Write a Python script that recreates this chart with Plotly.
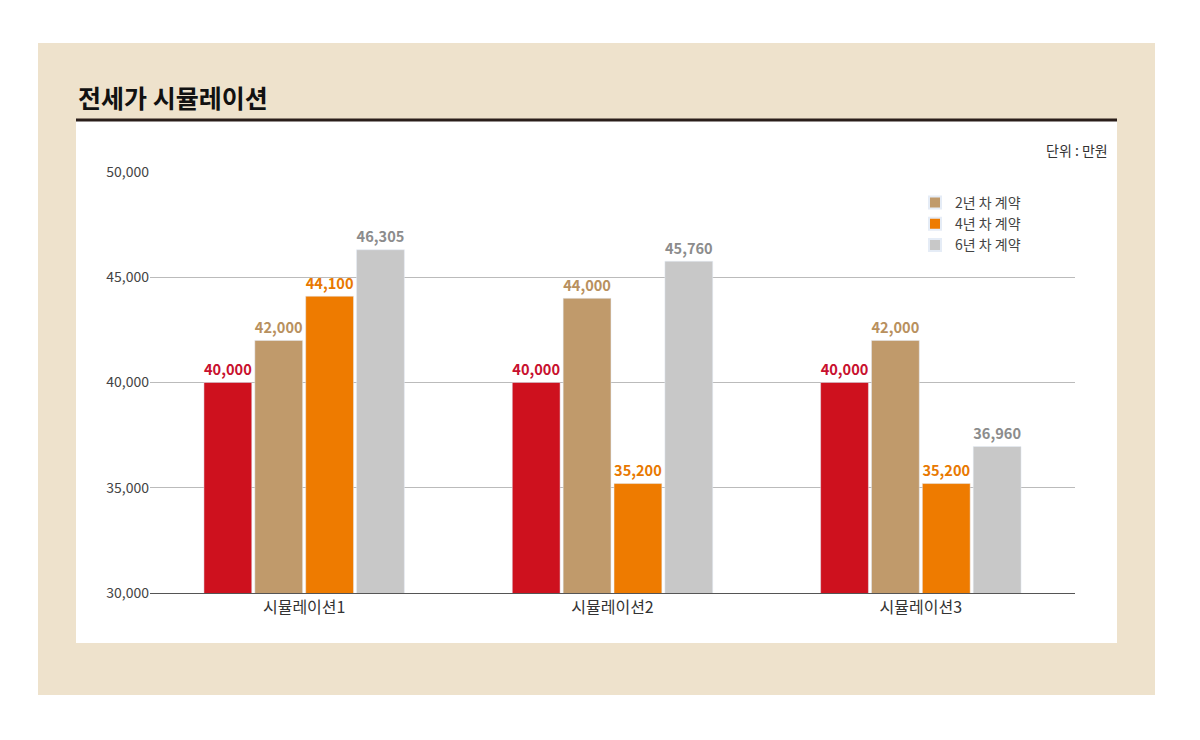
import plotly.graph_objects as go

categories = ["시뮬레이션1", "시뮬레이션2", "시뮬레이션3"]
base = [40000, 40000, 40000]
year2 = [42000, 44000, 42000]
year4 = [44100, 35200, 35200]
year6 = [46305, 45760, 36960]
names = ["기준", "2년 차 계약", "4년 차 계약", "6년 차 계약"]
yticks = [30000, 35000, 40000, 45000, 50000]

FONT = "Noto Sans CJK KR"
OFF = 8  # page body offset
L, R, T, B = 150 - OFF, 1075 - OFF, 172 - OFF, 593 - OFF

def px(x):
    return (x - OFF - L) / (R - L)

def py(y):
    return (B - (y - OFF)) / (B - T)

series = [
    (names[0], base, "#CE111E", "#C8102E", False),
    (names[1], year2, "#C09A6B", "#B8905E", True),
    (names[2], year4, "#EE7B00", "#E87800", True),
    (names[3], year6, "#C8C8C8", "#8C8C8C", True),
]

fig = go.Figure()
for name, vals, color, tcolor, show in series:
    fig.add_trace(go.Bar(
        x=categories, y=vals, name=name, marker_color=color,
        showlegend=show, text=[f"<b>{v:,}</b>" for v in vals],
        textposition="outside", cliponaxis=False,
        textfont=dict(color=tcolor, size=17, family=FONT)))

fig.update_layout(
    width=1200, height=740,
    margin=dict(l=L, r=1200 - R, t=T, b=740 - B),
    paper_bgcolor="white", plot_bgcolor="white",
    font=dict(family=FONT, size=14, color="#333"),
    barmode="group", bargap=0.34, bargroupgap=0.06,
    legend=dict(x=px(915), y=py(187), xanchor="left", yanchor="top",
                bgcolor="rgba(0,0,0,0)", font=dict(size=14, color="#444"),
                itemsizing="constant", tracegroupgap=4),
    shapes=[
        dict(type="rect", xref="paper", yref="paper", layer="below",
             x0=px(38), x1=px(1155), y0=py(695), y1=py(43),
             fillcolor="#EEE2CC", line_width=0),
        dict(type="rect", xref="paper", yref="paper", layer="below",
             x0=px(76), x1=px(1117), y0=py(643), y1=py(121),
             fillcolor="white", line_width=0),
        dict(type="line", xref="paper", yref="paper",
             x0=px(76), x1=px(1117), y0=py(120), y1=py(120),
             line=dict(color="#2A1E1A", width=3)),
    ],
    annotations=[
        dict(text="<b>전세가 시뮬레이션</b>", xref="paper", yref="paper",
             x=px(76), y=py(97), xanchor="left", yanchor="middle",
             showarrow=False, font=dict(size=25, color="#111", family=FONT)),
        dict(text="단위 : 만원", xref="paper", yref="paper",
             x=px(1110), y=py(150), xanchor="right", yanchor="middle",
             showarrow=False, font=dict(size=14, color="#333", family=FONT)),
    ],
)
fig.update_yaxes(range=[30000, 50000], tickvals=yticks, tickformat=",",
                 showgrid=True, gridcolor="#BBBBBB", gridwidth=1,
                 zeroline=False, showline=False, ticks="",
                 tickfont=dict(size=14, color="#444"))
fig.update_xaxes(showline=True, linecolor="#555", linewidth=1,
                 tickfont=dict(size=16, color="#333"))

fig.write_html("out.html")
